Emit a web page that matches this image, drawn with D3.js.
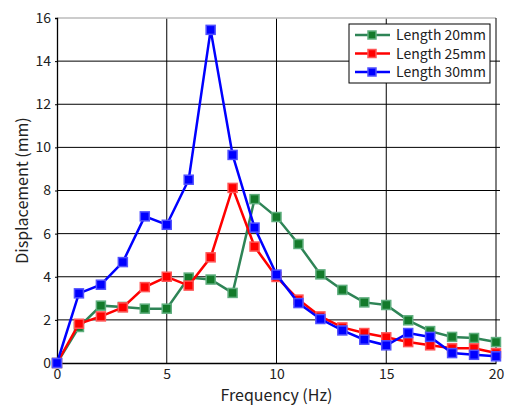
<!DOCTYPE html>
<html>
<head>
<meta charset="utf-8">
<script src="https://cdn.jsdelivr.net/npm/d3@7"></script>
<style>
  body { margin: 0; background: #fff; }
  text { font-family: "Noto Sans CJK JP", "DejaVu Sans", sans-serif; fill: #222; }
</style>
</head>
<body>
<div id="chart"></div>
<script>
// 数据
const freqs = d3.range(0, 21);
const len20 = [0, 1.67, 2.66, 2.60, 2.52, 2.52, 3.96, 3.87, 3.25, 7.6, 6.77, 5.52, 4.11, 3.39, 2.81, 2.69, 1.98, 1.48, 1.21, 1.16, 0.97];
const len25 = [0, 1.82, 2.16, 2.58, 3.52, 4.00, 3.59, 4.90, 8.12, 5.40, 3.99, 2.94, 2.16, 1.65, 1.39, 1.19, 0.97, 0.82, 0.68, 0.68, 0.46];
const len30 = [0, 3.23, 3.63, 4.68, 6.80, 6.41, 8.50, 15.45, 9.65, 6.28, 4.10, 2.78, 2.04, 1.51, 1.08, 0.82, 1.39, 1.21, 0.46, 0.38, 0.31];
const seriesNames = ['Length 20mm', 'Length 25mm', 'Length 30mm'];
const xTicks = [0, 5, 10, 15, 20];
const yTicks = [0, 2, 4, 6, 8, 10, 12, 14, 16];

const series = [
    { name: seriesNames[0], values: len20, color: '#2e8456', fill: '#137a2a', stroke: '#5fae7e' },
    { name: seriesNames[1], values: len25, color: '#ff0000', fill: '#ff0000', stroke: '#ff5555' },
    { name: seriesNames[2], values: len30, color: '#0000ff', fill: '#0000ff', stroke: '#5050ff' }
];

const width = 505, height = 408;
const margin = { top: 18, right: 9, bottom: 45, left: 57 };

const svg = d3.select('#chart').append('svg')
    .attr('width', width)
    .attr('height', height);

const x = d3.scaleLinear().domain([0, 20]).range([margin.left, width - margin.right]);
const y = d3.scaleLinear().domain([0, 16]).range([height - margin.bottom, margin.top]);

// 网格
const grid = svg.append('g');
grid.selectAll('line.h')
    .data(yTicks.filter(d => d > 0 && d < 16))
    .enter().append('line')
    .attr('x1', x(0)).attr('x2', x(20) + 4)
    .attr('y1', d => y(d)).attr('y2', d => y(d))
    .attr('stroke', '#000').attr('stroke-width', 1);
grid.selectAll('line.v')
    .data(xTicks.filter(d => d > 0 && d < 20))
    .enter().append('line')
    .attr('x1', d => x(d)).attr('x2', d => x(d))
    .attr('y1', y(0)).attr('y2', y(16))
    .attr('stroke', '#000').attr('stroke-width', 1);

// 边框
svg.append('line')
    .attr('x1', x(0)).attr('x2', x(20))
    .attr('y1', y(16)).attr('y2', y(16))
    .attr('stroke', '#bbb').attr('stroke-width', 1.5);
svg.append('line')
    .attr('x1', x(20)).attr('x2', x(20))
    .attr('y1', y(16)).attr('y2', y(0))
    .attr('stroke', '#000').attr('stroke-width', 1);

// 坐标轴
const xAxis = svg.append('g')
    .attr('transform', `translate(0,${y(0)})`)
    .call(d3.axisBottom(x).tickValues(xTicks).tickSize(0).tickPadding(6));
const yAxis = svg.append('g')
    .attr('transform', `translate(${x(0)},0)`)
    .call(d3.axisLeft(y).tickValues(yTicks).tickSize(2).tickPadding(4));
[xAxis, yAxis].forEach(a => {
    a.select('.domain').attr('stroke', '#000').attr('stroke-width', 1.3);
    a.selectAll('.tick line').attr('stroke', '#000');
    a.selectAll('text').style('font-size', '14px').style('font-family', '"Noto Sans CJK JP", sans-serif').attr('fill', '#222');
});

// 轴标题
svg.append('text')
    .attr('x', (x(0) + x(20)) / 2)
    .attr('y', 401)
    .attr('text-anchor', 'middle')
    .style('font-size', '16px')
    .text('Frequency (Hz)');
svg.append('text')
    .attr('transform', `translate(28,${(y(0) + y(16)) / 2}) rotate(-90)`)
    .attr('text-anchor', 'middle')
    .style('font-size', '16px')
    .text('Displacement (mm)');

// 折线与标记
const line = d3.line().x((d, i) => x(freqs[i])).y(d => y(d));
series.forEach(s => {
    const g = svg.append('g');
    g.append('path')
        .datum(s.values)
        .attr('d', line)
        .attr('fill', 'none')
        .attr('stroke', s.color)
        .attr('stroke-width', 2.5);
    g.selectAll('rect')
        .data(s.values)
        .enter().append('rect')
        .attr('x', (d, i) => x(freqs[i]) - 4.5)
        .attr('y', d => y(d) - 4.5)
        .attr('width', 9).attr('height', 9)
        .attr('fill', s.fill)
        .attr('stroke', s.stroke)
        .attr('stroke-width', 1.5);
});

// 图例
const legend = svg.append('g').attr('transform', 'translate(349,24)');
legend.append('rect')
    .attr('width', 141).attr('height', 59)
    .attr('fill', '#fff').attr('stroke', '#000').attr('stroke-width', 1);
series.forEach((s, i) => {
    const ly = 11 + i * 18.5;
    legend.append('line')
        .attr('x1', 6).attr('x2', 41)
        .attr('y1', ly).attr('y2', ly)
        .attr('stroke', s.color).attr('stroke-width', 2.5);
    legend.append('rect')
        .attr('x', 19).attr('y', ly - 4)
        .attr('width', 8).attr('height', 8)
        .attr('fill', s.fill).attr('stroke', s.stroke).attr('stroke-width', 1.5);
    legend.append('text')
        .attr('x', 47).attr('y', ly + 5)
        .style('font-size', '14px')
        .text(s.name);
});
</script>
</body>
</html>
